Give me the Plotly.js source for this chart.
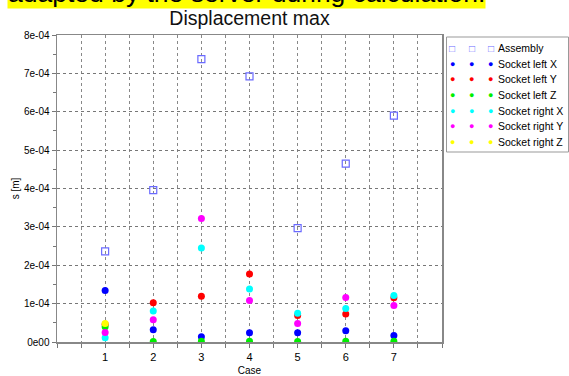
<!DOCTYPE html>
<html>
<head>
<meta charset="utf-8">
<script src="https://cdn.plot.ly/plotly-3.0.1.min.js"></script>
<style>html,body{margin:0;padding:0;background:#fff;}#chart{width:569px;height:376px;}</style>
</head>
<body>
<div id="chart"></div>
<script>
const cases = [1, 2, 3, 4, 5, 6, 7];
const assembly      = [2.36e-4, 3.96e-4, 7.37e-4, 6.92e-4, 2.97e-4, 4.65e-4, 5.90e-4];
const socketLeftX   = [1.34e-4, 0.32e-4, 0.14e-4, 0.24e-4, 0.24e-4, 0.29e-4, 0.17e-4];
const socketLeftY   = [0.46e-4, 1.02e-4, 1.19e-4, 1.77e-4, 0.69e-4, 0.73e-4, 1.15e-4];
const socketLeftZ   = [0.40e-4, 0.01e-4, 0.02e-4, 0.02e-4, 0.01e-4, 0.02e-4, 0.02e-4];
const socketRightX  = [0.11e-4, 0.81e-4, 2.45e-4, 1.38e-4, 0.75e-4, 0.87e-4, 1.21e-4];
const socketRightY  = [0.245e-4, 0.58e-4, 3.22e-4, 1.08e-4, 0.48e-4, 1.16e-4, 0.95e-4];
const socketRightZ  = [0.48e-4, null, null, null, null, null, null];
const seriesNames = ['Assembly', 'Socket left X', 'Socket left Y', 'Socket left Z',
                     'Socket right X', 'Socket right Y', 'Socket right Z'];
const yTickVals = [0, 1e-4, 2e-4, 3e-4, 4e-4, 5e-4, 6e-4, 7e-4, 8e-4];
const yTickText = ['0e00', '1e-04', '2e-04', '3e-04', '4e-04', '5e-04', '6e-04', '7e-04', '8e-04'];
const xTickVals = [1, 2, 3, 4, 5, 6, 7];

const seriesValues = [assembly, socketLeftX, socketLeftY, socketLeftZ, socketRightX, socketRightY, socketRightZ];
const colors = ['#6a6aff', '#0000ff', '#ff0000', '#00ee00', '#00ffff', '#ff00ff', '#ffff00'];

const traces = seriesValues.map((vals, i) => ({
  type: 'scatter', mode: 'markers', x: cases, y: vals, name: seriesNames[i],
  cliponaxis: true, showlegend: false,
  marker: i === 0
    ? {color: colors[i], symbol: 'square-open', size: 7, line: {color: colors[i], width: 1.2}}
    : {color: colors[i], symbol: 'circle', size: 7, line: {width: 0}}
}));

// plot-area geometry (pixels) used to place the hand-drawn legend
const L = 57, R = 442, T = 35, B = 342;
const px2x = p => (p - L) / (R - L);
const px2y = p => (B - p) / (B - T);

const font = {family: 'Liberation Sans, Arial, sans-serif', color: '#000'};
const annotations = [{
  text: 'adapted by the server during calculation.', xref: 'paper', yref: 'paper',
  x: px2x(7), xanchor: 'left', y: px2y(9), yanchor: 'bottom', showarrow: false,
  bgcolor: '#ffff00', borderpad: 0,
  font: Object.assign({}, font, {size: 26.5})
}];
const markerXs = [452.3, 471.7, 490.7];
seriesNames.forEach((name, i) => {
  const yc = 48.3 + 15.6 * i;
  markerXs.forEach(mx => annotations.push({
    text: i === 0 ? '□' : '●', xref: 'paper', yref: 'paper',
    x: px2x(mx), y: px2y(yc), xanchor: 'center', yanchor: 'middle', showarrow: false,
    font: Object.assign({}, font, {size: i === 0 ? 10 : 9, color: colors[i]})
  }));
  annotations.push({
    text: name, xref: 'paper', yref: 'paper',
    x: px2x(496), y: px2y(yc), xanchor: 'left', yanchor: 'middle', showarrow: false,
    font: Object.assign({}, font, {size: 10.5})
  });
});

const layout = {
  width: 569, height: 376,
  margin: {l: L, r: 569 - R, t: T, b: 376 - B},
  paper_bgcolor: '#fff', plot_bgcolor: '#fff',
  font: Object.assign({size: 10}, font),
  title: {text: 'Displacement max', font: Object.assign({}, font, {size: 19.5, color: '#111'}),
          x: 0.5, xref: 'paper', xanchor: 'center', y: 0.951, yref: 'container', yanchor: 'middle'},
  showlegend: false,
  xaxis: {range: [0, 8], tickvals: xTickVals, ticks: 'outside', ticklen: 4, tickcolor: '#777',
          showline: true, linecolor: '#888', linewidth: 1.5, mirror: true,
          showgrid: true, gridcolor: '#888', griddash: 'dot', gridwidth: 1, zeroline: false,
          minor: {dtick: 0.5, tick0: 0.5, ticks: 'outside', ticklen: 4, tickcolor: '#777', showgrid: true, gridcolor: '#888', griddash: 'dot'},
          title: {text: 'Case', font: Object.assign({}, font, {size: 10}), standoff: 8},
          tickfont: Object.assign({}, font, {size: 11})},
  yaxis: {range: [0, 8e-4], tickvals: yTickVals, ticktext: yTickText, ticks: 'outside', ticklen: 4, tickcolor: '#777',
          showline: true, linecolor: '#888', linewidth: 1.5, mirror: true,
          showgrid: true, gridcolor: '#777', griddash: 'dot', gridwidth: 1, zeroline: false,
          minor: {dtick: 0.5e-4, tick0: 0, ticks: 'outside', ticklen: 3, tickcolor: '#777', showgrid: false},
          title: {text: 's [m]', font: Object.assign({}, font, {size: 10}), standoff: 2},
          tickfont: Object.assign({}, font, {size: 10})},
  shapes: [{type: 'rect', xref: 'paper', yref: 'paper',
            x0: px2x(446.5), x1: px2x(568.5), y0: px2y(152), y1: px2y(37),
            line: {color: '#999', width: 1}, fillcolor: 'rgba(0,0,0,0)'}],
  annotations: annotations
};

Plotly.newPlot('chart', traces, layout, {displayModeBar: false, staticPlot: true});
</script>
</body>
</html>
